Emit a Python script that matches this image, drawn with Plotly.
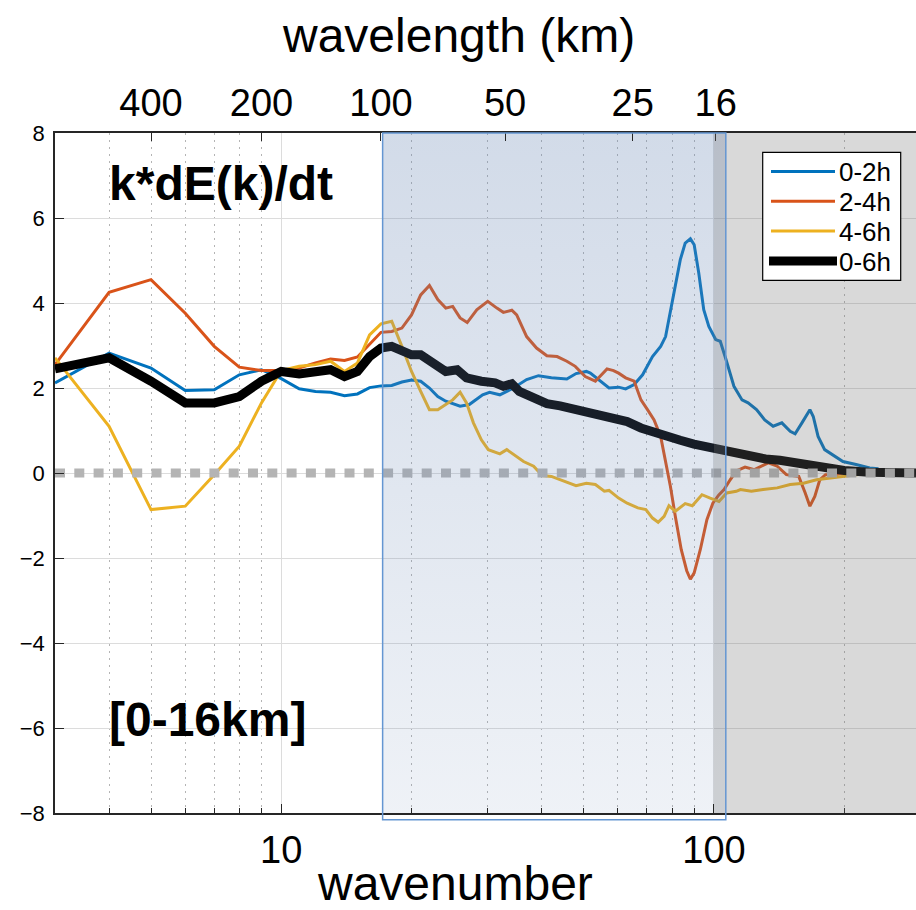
import math
import plotly.graph_objects as go

FONT = "Liberation Sans, Arial, sans-serif"

# ---------------- axis settings ----------------
K_MIN, K_MAX = 3.0, 293.0
Y_MIN, Y_MAX = -8, 8
y_ticks = [-8, -6, -4, -2, 0, 2, 4, 6, 8]
bottom_tick_k = [10, 100]
bottom_tick_labels = ["10", "100"]
minor_k = [4, 5, 6, 7, 8, 9, 20, 30, 40, 50, 60, 70, 80, 90, 200]
top_tick_k = [5.0, 9.0, 17.0, 32.9, 64.9, 100.9]
top_tick_labels = ["400", "200", "100", "50", "25", "16"]
band_k = [17.15, 106.5]      # highlighted 16-100 km band
shade_k = [100, 1000]        # grey region (k > 100)

# ---------------- data ----------------
k_int = [3, 4, 5, 6, 7, 8, 9, 10, 11, 12, 13, 14, 15, 16, 17, 18, 19, 20, 21, 22, 23, 24]

blue_k = k_int + [25.9, 27.2, 29.2, 30.3, 32.0, 34.4, 36.9, 39.3, 42.1, 45.7, 48.0, 50.7,
                  51.8, 54.5, 57.2, 60.2, 62.5, 65.4, 68.4, 72.1, 75.3, 77.3, 79.3, 81.4,
                  83.6, 85.8, 88.2, 90.0, 92.2, 94.7, 97.3, 100.9, 103.4, 106.6, 111.2,
                  116.1, 119.9, 125.4, 131, 137, 143.5, 150, 154, 159.7, 166.6, 169.6, 174,
                  180.2, 188.3, 198.6, 213, 229, 240]
blue_v = [2.12, 2.82, 2.47, 1.94, 1.96, 2.31, 2.43, 2.22, 1.98, 1.92, 1.90, 1.82, 1.86, 2.01,
          2.05, 2.06, 2.14, 2.19, 2.16, 2.00, 1.80, 1.69,
          1.57, 1.61, 1.84, 1.90, 1.84, 2.00, 2.20, 2.29, 2.24, 2.21, 2.34, 2.39,
          2.35, 2.16, 2.00, 2.02, 1.98, 2.08, 2.31, 2.74, 2.98, 3.21, 3.80, 4.39,
          5.02, 5.41, 5.51, 5.37, 4.71, 3.84, 3.45, 3.14, 3.10, 2.67, 2.04,
          1.72, 1.65, 1.49, 1.25, 1.10, 1.18, 0.98, 0.92, 1.18, 1.49, 1.33, 0.86,
          0.55, 0.43, 0.27, 0.20, 0.12, 0.10]

orange_k = k_int + [24.9, 25.9, 26.9, 28.3, 30.0, 31.5, 32.6, 34.1, 35.0, 36.9, 38.9, 41.1,
                    43.4, 45.7, 47.8, 50.4, 53.2, 56.6, 58.6, 60.2, 62.5, 65.4, 67.8, 70.2,
                    72.7, 75.3, 77.3, 79.3, 81.4, 84.0, 86.5, 88.2, 90.0, 93.0, 96.3, 99.4,
                    102.5, 105.5, 109.0, 112.6, 118, 124, 133.5, 140, 147, 157, 162.5, 166.6,
                    171, 175.6, 181, 190, 199, 215]
orange_v = [2.55, 4.25, 4.55, 3.76, 2.98, 2.49, 2.41, 2.41, 2.47, 2.59, 2.68, 2.65, 2.73, 3.02,
            3.31, 3.33, 3.41, 3.72, 4.19, 4.41, 4.08, 3.88,
            3.92, 3.65, 3.54, 3.84, 4.04, 3.88, 3.78, 3.83, 3.72, 3.21, 2.94, 2.76,
            2.74, 2.63, 2.51, 2.27, 2.16, 2.45, 2.41, 2.35, 2.24, 2.16, 1.72, 1.49,
            1.25, 0.86, 0.31, -0.31, -1.02, -1.80, -2.30, -2.50, -2.35, -1.80, -1.10, -0.71,
            -0.52, -0.39, -0.16, 0.05, 0.14, 0.08, 0.24, 0.16, -0.04, -0.08, -0.47, -0.78,
            -0.55, -0.16, -0.04, -0.04, 0.0, 0.0]

yellow_k = k_int + [24.9, 25.9, 26.8, 27.8, 29.0, 30.1, 32.0, 33.2, 34.4, 36.3, 38.3, 40.1,
                    42.1, 45.4, 48.0, 50.7, 53.2, 55.8, 57.2, 60.2, 63.0, 66.7, 69.6, 72.1,
                    74.3, 76.7, 78.7, 81.4, 85.8, 89.1, 93.8, 98.0, 102.7, 107, 112.6, 115.1,
                    122, 129.9, 140, 150, 161, 172.5, 185, 198.6, 213, 218]
yellow_v = [2.71, 1.10, -0.86, -0.78, -0.04, 0.63, 1.65, 2.41, 2.51, 2.55, 2.63, 2.39, 2.59,
            3.25, 3.51, 3.57, 2.98, 2.39, 1.92, 1.49, 1.49, 1.61,
            1.72, 1.90, 1.65, 1.18, 0.78, 0.55, 0.45, 0.55, 0.43, 0.27, 0.16, -0.06,
            -0.08, -0.20, -0.30, -0.24, -0.27, -0.43, -0.41, -0.59, -0.71, -0.82, -0.86, -1.06,
            -1.16, -1.02, -0.77, -0.90, -0.72, -0.77, -0.51, -0.59, -0.67, -0.47, -0.43, -0.39,
            -0.43, -0.39, -0.35, -0.27, -0.24, -0.16, -0.12, -0.08, -0.04, -0.03]

black_k = k_int + [25.5, 26.8, 29.0, 31.2, 32.6, 34.1, 35.5, 38.3, 41.1, 44.1, 47.3, 50.7,
                   54.5, 58.6, 63.0, 67.8, 72.7, 78.2, 83.6, 89.9, 96.3, 103.4, 112.6, 122.1,
                   131.6, 142, 169, 200, 228, 260, 293]
black_v = [2.45, 2.71, 2.16, 1.65, 1.65, 1.80, 2.16, 2.39, 2.33, 2.37, 2.43, 2.27, 2.39, 2.74,
           2.94, 2.98, 2.86, 2.78, 2.78, 2.65, 2.47, 2.39,
           2.43, 2.24, 2.16, 2.12, 2.04, 2.10, 1.92, 1.74, 1.63, 1.58, 1.51, 1.45,
           1.40, 1.32, 1.21, 1.06, 0.98, 0.86, 0.77, 0.68, 0.61, 0.53, 0.45, 0.39,
           0.33, 0.30, 0.16, 0.06, 0.02, 0.0, 0.0]

series_names = ["0-2h", "2-4h", "4-6h", "0-6h"]
series_k = [blue_k, orange_k, yellow_k, black_k]
series_v = [blue_v, orange_v, yellow_v, black_v]
series_colors = ["#0072BD", "#D95319", "#EDB120", "#000000"]
series_widths = [3, 3, 3, 9]

# ---------------- layout geometry (pixels) ----------------
W, H = 916, 910
PL, PT, PR, PB = 55, 133.3, 916, 813.3     # plot area


def px(xp):
    return (xp - PL) / (PR - PL)


def py(yp):
    return (PB - yp) / (PB - PT)


fig = go.Figure()
for name, kx, vy, col, w in zip(series_names, series_k, series_v, series_colors, series_widths):
    fig.add_trace(go.Scatter(x=kx, y=vy, mode="lines", name=name, showlegend=False,
                             line=dict(color=col, width=w), hoverinfo="skip"))

# dotted zero reference line
fig.add_trace(go.Scatter(x=[K_MIN, K_MAX], y=[0, 0], mode="lines", showlegend=False,
                         line=dict(color="#b4b4b4", width=9, dash="10px,9.3px"),
                         hoverinfo="skip"))

# translucent blue band (gradient)
fig.add_trace(go.Scatter(
    x=[band_k[0], band_k[1], band_k[1], band_k[0], band_k[0]],
    y=[Y_MIN, Y_MIN, Y_MAX, Y_MAX, Y_MIN],
    mode="none", fill="toself", showlegend=False, hoverinfo="skip",
    fillgradient=dict(type="vertical",
                      colorscale=[[0, "rgba(105,135,180,0.11)"],
                                  [1, "rgba(105,135,180,0.30)"]])))

# dummy trace for top axis
fig.add_trace(go.Scatter(x=[], y=[], xaxis="x2", showlegend=False, hoverinfo="skip"))

fig.add_shape(type="rect", xref="x", yref="paper", x0=shade_k[0], x1=shade_k[1],
              y0=0, y1=1, fillcolor="rgba(115,115,115,0.27)", line=dict(width=0),
              layer="above")
fig.add_shape(type="rect", xref="x", yref="paper", x0=band_k[0], x1=band_k[1],
              y0=py(820), y1=1, fillcolor="rgba(0,0,0,0)",
              line=dict(color="rgb(100,150,210)", width=1.5), layer="above")

# ---------------- custom legend ----------------
LEG_L, LEG_R, LEG_T, LEG_B = 762.7, 900.7, 152.7, 280.7
fig.add_shape(type="rect", xref="paper", yref="paper", x0=px(LEG_L), x1=px(LEG_R),
              y0=py(LEG_B), y1=py(LEG_T), fillcolor="white",
              line=dict(color="black", width=1.2), layer="above")
row_y = [171.7, 201.5, 231.3, 261.3]
for i, (name, col, w) in enumerate(zip(series_names, series_colors, series_widths)):
    fig.add_shape(type="line", xref="paper", yref="paper",
                  x0=px(771 if w < 5 else 769), x1=px(835 if w < 5 else 837),
                  y0=py(row_y[i]), y1=py(row_y[i]),
                  line=dict(color=col, width=w), layer="above")
    fig.add_annotation(text=name, xref="paper", yref="paper", x=px(837), y=py(row_y[i] + 1),
                       xanchor="left", yanchor="middle", showarrow=False,
                       font=dict(size=26, color="black", family=FONT))

# ---------------- texts ----------------
fig.add_annotation(text="<b>k*dE(k)/dt</b>", xref="paper", yref="paper",
                   x=px(107), y=py(184), xanchor="left", yanchor="middle", showarrow=False,
                   font=dict(size=48, color="black", family=FONT))
fig.add_annotation(text="<b>[0-16km]</b>", xref="paper", yref="paper",
                   x=px(107), y=py(720), xanchor="left", yanchor="middle", showarrow=False,
                   font=dict(size=48, color="black", family=FONT))
fig.add_annotation(text="wavelength (km)", xref="paper", yref="paper",
                   x=px(458), y=py(36), xanchor="center", yanchor="middle", showarrow=False,
                   font=dict(size=48, color="black", family=FONT))
fig.add_annotation(text="wavenumber", xref="paper", yref="paper",
                   x=px(455), y=py(884), xanchor="center", yanchor="middle", showarrow=False,
                   font=dict(size=48, color="black", family=FONT))

axcol = "#262626"
fig.update_layout(
    width=W, height=H,
    margin=dict(l=PL, r=W - PR, t=PT, b=H - PB),
    paper_bgcolor="white", plot_bgcolor="white",
    font=dict(family=FONT, color="#111111"),
    showlegend=False,
    xaxis=dict(type="log", range=[math.log10(K_MIN), math.log10(K_MAX)],
               tickmode="array", tickvals=bottom_tick_k, ticktext=bottom_tick_labels,
               ticks="inside", ticklen=9, tickwidth=1.2, tickcolor=axcol,
               showline=True, linecolor=axcol, linewidth=1.5,
               showgrid=True, gridcolor="#dcdcdc", gridwidth=1, zeroline=False,
               tickfont=dict(size=38, color="black"), ticklabelstandoff=3,
               minor=dict(tickmode="array", tickvals=minor_k, ticks="inside", ticklen=5,
                          tickcolor=axcol, showgrid=True, gridcolor="#b4b4b4",
                          griddash="1.5px,5.5px", gridwidth=1)),
    xaxis2=dict(type="log", overlaying="x", side="top", anchor="y",
                range=[math.log10(K_MIN), math.log10(K_MAX)],
                tickmode="array", tickvals=top_tick_k, ticktext=top_tick_labels,
                ticks="inside", ticklen=8, tickwidth=1.2, tickcolor=axcol,
                showline=True, linecolor=axcol, linewidth=1.5,
                showgrid=False, zeroline=False, tickfont=dict(size=38, color="black")),
    yaxis=dict(range=[Y_MIN, Y_MAX], tickmode="array", tickvals=y_ticks,
               ticks="inside", ticklen=9, tickwidth=1.2, tickcolor=axcol,
               showline=True, linecolor=axcol, linewidth=1.5,
               showgrid=True, gridcolor="#dcdcdc", gridwidth=1, zeroline=False,
               tickfont=dict(size=22, color="black"), ticklabelstandoff=4),
)

fig.write_html("out.html")
